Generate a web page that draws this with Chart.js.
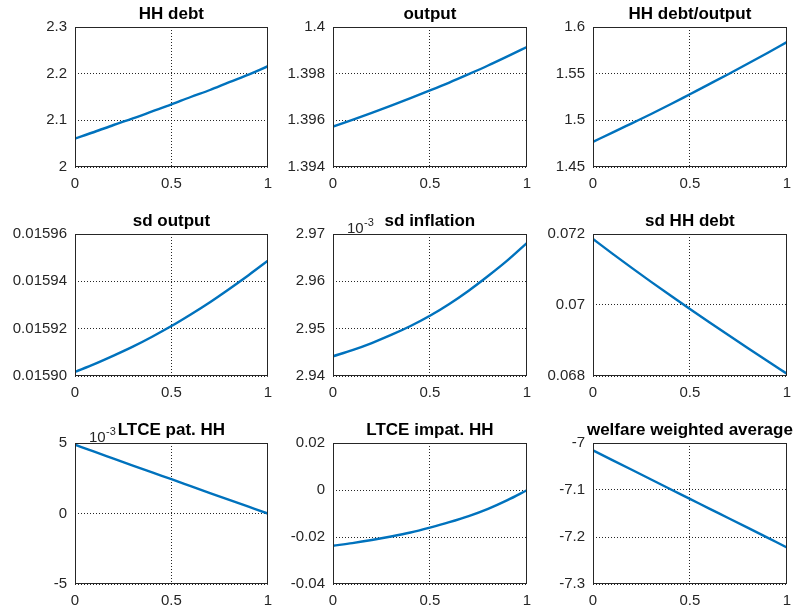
<!DOCTYPE html>
<html lang="en">
<head>
<meta charset="UTF-8">
<title>Welfare panels</title>
<style>
  html, body { margin: 0; padding: 0; background: #fff; }
  #wrap { position: relative; width: 801px; height: 615px; overflow: hidden; background: #fff; }
  #wrap canvas { position: absolute; }
</style>
</head>
<body>
<div id="wrap"></div>
<script src="https://cdn.jsdelivr.net/npm/chart.js@4"></script>
<script>
// x grid shared by all panels
const xs = [0, 0.1, 0.2, 0.3, 0.4, 0.5, 0.6, 0.7, 0.8, 0.9, 1];
const xTicks = [0, 0.5, 1];
const xTickLabels = ['0', '0.5', '1'];

// row 1
const hhDebt = [2.061, 2.075, 2.090, 2.104, 2.119, 2.134, 2.150, 2.165, 2.182, 2.198, 2.216];
const hhDebtTicks = [2, 2.1, 2.2, 2.3];
const hhDebtLabels = ['2', '2.1', '2.2', '2.3'];

const output = [1.39573, 1.39602, 1.39632, 1.39663, 1.39695, 1.39728, 1.39762, 1.39798, 1.39835, 1.39874, 1.39914];
const outputTicks = [1.394, 1.396, 1.398, 1.4];
const outputLabels = ['1.394', '1.396', '1.398', '1.4'];

const debtRatio = [1.477, 1.4868, 1.4968, 1.5068, 1.5172, 1.528, 1.5388, 1.5497, 1.5609, 1.5722, 1.5838];
const debtRatioTicks = [1.45, 1.5, 1.55, 1.6];
const debtRatioLabels = ['1.45', '1.5', '1.55', '1.6'];

// row 2
const sdOutput = [0.0159017, 0.0159050, 0.0159086, 0.0159124, 0.0159166, 0.0159211, 0.0159260, 0.0159312, 0.0159368, 0.0159426, 0.0159487];
const sdOutputTicks = [0.0159, 0.01592, 0.01594, 0.01596];
const sdOutputLabels = ['0.01590', '0.01592', '0.01594', '0.01596'];

const sdInflation = [0.00294417, 0.00294547, 0.00294697, 0.00294867, 0.00295057, 0.00295273, 0.00295523, 0.00295803, 0.00296113, 0.00296443, 0.00296809];
const sdInflationTicks = [0.00294, 0.00295, 0.00296, 0.00297];
const sdInflationLabels = ['2.94', '2.95', '2.96', '2.97'];

const sdDebt = [0.071858, 0.071448, 0.071046, 0.070652, 0.070266, 0.069887, 0.069515, 0.069147, 0.068783, 0.068423, 0.068066];
const sdDebtTicks = [0.068, 0.07, 0.072];
const sdDebtLabels = ['0.068', '0.07', '0.072'];

// row 3
const ltcePat = [0.00488, 0.00438, 0.00389, 0.00340, 0.00291, 0.00243, 0.00194, 0.00145, 0.00096, 0.00048, 0.0];
const ltcePatTicks = [-0.005, 0, 0.005];
const ltcePatLabels = ['-5', '0', '5'];

const ltceImpat = [-0.0237, -0.0226, -0.0213, -0.0198, -0.0181, -0.0160, -0.0137, -0.0111, -0.0080, -0.0043, -0.0001];
const ltceImpatTicks = [-0.04, -0.02, 0, 0.02];
const ltceImpatLabels = ['-0.04', '-0.02', '0', '0.02'];

const welfare = [-7.0156, -7.0363, -7.057, -7.0777, -7.0984, -7.1189, -7.1395, -7.16, -7.1806, -7.2014, -7.2222];
const welfareTicks = [-7.3, -7.2, -7.1, -7];
const welfareLabels = ['-7.3', '-7.2', '-7.1', '-7'];

const titles = ['HH debt', 'output', 'HH debt/output',
                'sd output', 'sd inflation', 'sd HH debt',
                'LTCE pat. HH', 'LTCE impat. HH', 'welfare weighted average'];

// layout of the subplot grid (plot-area pixels)
const colLefts = [75, 333, 593];
const colWidths = [197, 198, 198];
const rowTops = [27, 234, 443];
const rowHeights = [140, 142, 141];
const Y_W = 72, PAD_T = 27, PAD_R = 8, X_H = 28;

const FONT = "'Liberation Sans', Arial, Helvetica, sans-serif";

const panels = [
  { data: hhDebt, ticks: hhDebtTicks, labels: hhDebtLabels },
  { data: output, ticks: outputTicks, labels: outputLabels },
  { data: debtRatio, ticks: debtRatioTicks, labels: debtRatioLabels },
  { data: sdOutput, ticks: sdOutputTicks, labels: sdOutputLabels },
  { data: sdInflation, ticks: sdInflationTicks, labels: sdInflationLabels, expo: true },
  { data: sdDebt, ticks: sdDebtTicks, labels: sdDebtLabels },
  { data: ltcePat, ticks: ltcePatTicks, labels: ltcePatLabels, expo: true },
  { data: ltceImpat, ticks: ltceImpatTicks, labels: ltceImpatLabels },
  { data: welfare, ticks: welfareTicks, labels: welfareLabels }
];

const wrap = document.getElementById('wrap');

panels.forEach((p, i) => {
  const row = Math.floor(i / 3), col = i % 3;
  const canvas = document.createElement('canvas');
  const w = Y_W + colWidths[col] + PAD_R;
  const h = PAD_T + rowHeights[row] + X_H;
  canvas.width = w;
  canvas.height = h;
  canvas.style.width = w + 'px';
  canvas.style.height = h + 'px';
  canvas.style.left = (colLefts[col] - Y_W) + 'px';
  canvas.style.top = (rowTops[row] - PAD_T) + 'px';
  wrap.appendChild(canvas);

  // matlab style box, title and the 10^-3 multiplier
  const boxAndTitle = {
    id: 'boxAndTitle',
    afterDraw(chart) {
      const a = chart.chartArea;
      const ctx = chart.ctx;
      ctx.save();
      ctx.strokeStyle = '#262626';
      ctx.lineWidth = 1;
      ctx.setLineDash([]);
      ctx.strokeRect(Math.round(a.left) + 0.5, Math.round(a.top) + 0.5,
                     Math.round(a.right - a.left) - 1, Math.round(a.bottom - a.top) - 1);
      if (p.expo) {
        ctx.fillStyle = '#262626';
        ctx.textAlign = 'left';
        ctx.textBaseline = 'alphabetic';
        ctx.font = '15px ' + FONT;
        ctx.fillText('10', a.left + 14, a.top - 1);
        ctx.font = '11px ' + FONT;
        ctx.fillText('-3', a.left + 31, a.top - 8);
      }
      ctx.fillStyle = '#000';
      ctx.font = 'bold 17px ' + FONT;
      ctx.textAlign = 'center';
      ctx.textBaseline = 'alphabetic';
      ctx.fillText(titles[i], (a.left + a.right) / 2, a.top - 8);
      ctx.restore();
    }
  };

  new Chart(canvas, {
    type: 'line',
    data: {
      datasets: [{
        data: xs.map((x, k) => ({ x: x, y: p.data[k] })),
        borderColor: '#0072BD',
        borderWidth: 2.4,
        pointRadius: 0,
        fill: false,
        cubicInterpolationMode: 'monotone'
      }]
    },
    options: {
      responsive: false,
      animation: false,
      devicePixelRatio: 1,
      layout: { padding: { top: PAD_T, right: PAD_R, left: 0, bottom: 0 } },
      plugins: { legend: { display: false }, tooltip: { enabled: false }, title: { display: false } },
      scales: {
        x: {
          type: 'linear',
          min: 0,
          max: 1,
          afterBuildTicks: s => { s.ticks = xTicks.map(v => ({ value: v })); },
          afterFit: s => { s.height = X_H; },
          ticks: {
            autoSkip: false,
            maxRotation: 0,
            padding: 8,
            color: '#262626',
            font: { family: FONT, size: 15 },
            callback: (v, k) => xTickLabels[k]
          },
          grid: { color: 'rgba(0,0,0,0.85)', lineWidth: 1, drawTicks: false },
          border: { display: false, dash: [1, 2] }
        },
        y: {
          type: 'linear',
          min: p.ticks[0],
          max: p.ticks[p.ticks.length - 1],
          afterBuildTicks: s => { s.ticks = p.ticks.map(v => ({ value: v })); },
          afterFit: s => { s.width = Y_W; },
          ticks: {
            autoSkip: false,
            padding: 8,
            color: '#262626',
            font: { family: FONT, size: 15 },
            callback: (v, k) => p.labels[k]
          },
          grid: { color: 'rgba(0,0,0,0.85)', lineWidth: 1, drawTicks: false },
          border: { display: false, dash: [1, 2] }
        }
      }
    },
    plugins: [boxAndTitle]
  });
});
</script>
</body>
</html>
